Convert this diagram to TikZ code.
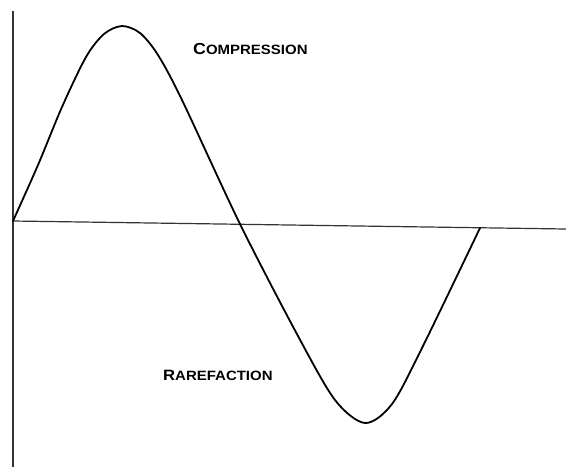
\documentclass[tikz,border=0pt]{standalone}
\usepackage{fontspec}
\usepackage{graphicx}
\setmainfont{Liberation Sans}
\begin{document}
\begin{tikzpicture}[x=1pt,y=-1pt,
  axis/.style={line width=1.2pt,black!80},
  wave/.style={line width=1.8pt,line cap=round,line join=round},
  lbl/.style={font=\bfseries,inner sep=0pt}]
\useasboundingbox (0,0) rectangle (566,467);
\coordinate (top) at (13,11);
\coordinate (bot) at (13,467);
\coordinate (o) at (13,221);
\coordinate (right) at (566,229);
\draw[axis] (top) -- (bot);
\draw[axis] (o) -- (right);
\draw[wave] plot[smooth,tension=0.5] coordinates {
  (13,221) (38,165) (62,107) (86,57) (104,34) (122,26) (140,33) (158,55) (182,100)
  (240,224) (298,336) (335,400) (365,423) (392,404) (422,348) (480,228)};
\node[lbl,anchor=west] (comp) at (193,49) {\scalebox{1.11}[1]{{\fontsize{16}{16}\selectfont C}{\fontsize{13.5}{13.5}\selectfont OMPRESSION}}};
\node[lbl,anchor=west] (rare) at (163,375) {\scalebox{1.11}[1]{{\fontsize{15}{15}\selectfont R}{\fontsize{13.5}{13.5}\selectfont AREFACTION}}};
\end{tikzpicture}
\end{document}
